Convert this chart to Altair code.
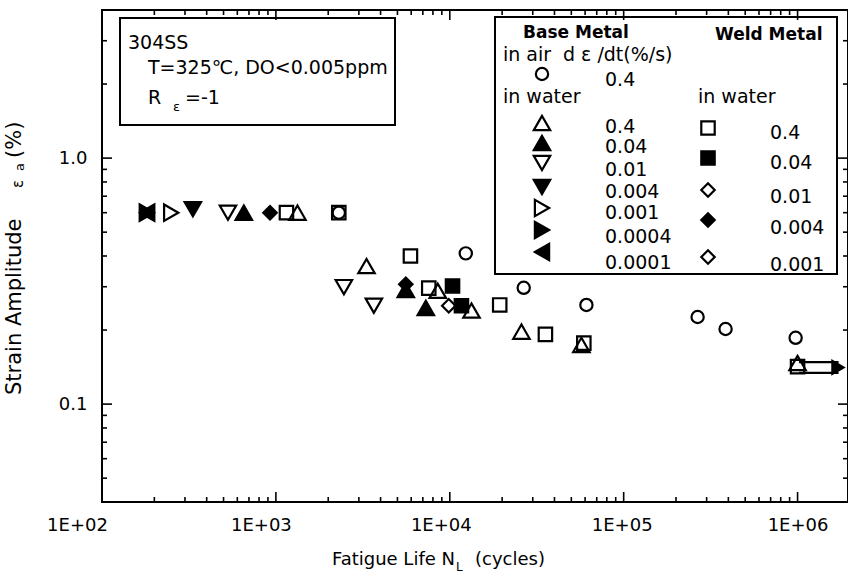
import altair as alt
import pandas as pd

# ---------------- data ----------------
cat_names = ["B_air_0.4", "B_w_0.4", "B_w_0.04", "B_w_0.01", "B_w_0.004", "B_w_0.001",
             "B_w_0.0004", "B_w_0.0001", "W_w_0.4", "W_w_0.04", "W_w_0.01", "W_w_0.004", "W_w_0.001"]
cat_shapes = ["circle", "triangle-up", "triangle-up", "triangle-down", "triangle-down", "triangle-right",
              "triangle-right", "triangle-left", "square", "square", "diamond", "diamond", "diamond"]
cat_fills = ["transparent", "transparent", "black", "transparent", "black", "transparent",
             "black", "black", "transparent", "black", "transparent", "black", "transparent"]
cat_sizes = [150, 270, 270, 270, 270, 270, 270, 270, 180, 180, 180, 180, 180]

cycles = [181, 182, 250, 333, 530, 654, 925, 1150, 1330, 2300, 2300,
          5940, 12360, 3320, 2460, 5585, 5585, 7570, 8530, 10370,
          3660, 7280, 9865, 11670, 13330, 19370, 26620, 61050,
          25830, 35480, 57130, 59000, 266200, 385500, 974700, 1000000, 1000000]
strain = [0.60, 0.60, 0.60, 0.62, 0.60, 0.60, 0.60, 0.60, 0.60, 0.60, 0.60,
          0.40, 0.41, 0.364, 0.299, 0.307, 0.291, 0.296, 0.289, 0.302,
          0.251, 0.246, 0.251, 0.251, 0.240, 0.253, 0.297, 0.253,
          0.197, 0.192, 0.174, 0.177, 0.226, 0.202, 0.186, 0.142, 0.147]
cond = ["B_w_0.0004", "B_w_0.0001", "B_w_0.001", "B_w_0.004", "B_w_0.01", "B_w_0.04", "W_w_0.004",
        "W_w_0.4", "B_w_0.4", "W_w_0.4", "B_air_0.4",
        "W_w_0.4", "B_air_0.4", "B_w_0.4", "B_w_0.01", "W_w_0.004", "B_w_0.04", "W_w_0.4", "B_w_0.4", "W_w_0.04",
        "B_w_0.01", "B_w_0.04", "W_w_0.01", "W_w_0.04", "B_w_0.4", "W_w_0.4", "B_air_0.4", "B_air_0.4",
        "B_w_0.4", "W_w_0.4", "B_w_0.4", "W_w_0.4", "B_air_0.4", "B_air_0.4", "B_air_0.4", "W_w_0.4", "B_w_0.4"]

# run-out arrow (specimen at 1E+06 did not fail)
runout_x_start = [1.02e6]
runout_x_end = [1.72e6]
runout_y_upper = [0.148]
runout_y_lower = [0.134]
runout_y_mid = [0.141]

x_major = [1e2, 1e3, 1e4, 1e5, 1e6]
x_minor = [k * 10 ** e for e in range(2, 6) for k in range(2, 10)]
y_major = [0.1, 1.0]
y_minor = [0.05, 0.06, 0.07, 0.08, 0.09, 0.2, 0.3, 0.4, 0.5, 0.6, 0.7, 0.8, 0.9, 2.0, 3.0]

base_rates = ["0.4", "0.04", "0.01", "0.004", "0.001", "0.0004", "0.0001"]
base_cats = ["B_w_0.4", "B_w_0.04", "B_w_0.01", "B_w_0.004", "B_w_0.001", "B_w_0.0004", "B_w_0.0001"]
weld_rates = ["0.4", "0.04", "0.01", "0.004", "0.001"]
weld_cats = ["W_w_0.4", "W_w_0.04", "W_w_0.01", "W_w_0.004", "W_w_0.001"]

# ---------------- layout ----------------
W, H = 746, 492
FONT = "DejaVu Sans"
FS = 18
BFS = 19

df = pd.DataFrame({"N": cycles, "ea": strain, "cond": cond})

xscale = alt.Scale(type="log", domain=[100, 1.95e6], nice=False)
yscale = alt.Scale(type="log", domain=[0.04, 4], nice=False)
x_label_offset = {
    "condition": [
        {"test": "datum.value < 150", "value": -25},
        {"test": "datum.value < 1500", "value": -15},
        {"test": "datum.value < 15000", "value": -9},
        {"test": "datum.value < 150000", "value": -2},
    ],
    "value": 0,
}
xaxis = alt.Axis(values=x_major, labelExpr="'1E+0' + round(log(datum.value) / LN10)",
                 ticks=False, domain=False, grid=False, labelFont=FONT, labelFontSize=FS,
                 labelColor="black", labelPadding=14, labelFlush=False, labelOverlap=False,
                 labelOffset=x_label_offset, title=None)
yaxis = alt.Axis(values=y_major, format=".1f", ticks=False, domain=False, grid=False,
                 labelFont=FONT, labelFontSize=FS, labelColor="black", labelPadding=15,
                 labelOverlap=False, title=None)


def X(f):
    return alt.X(f, type="quantitative", scale=xscale, axis=xaxis)


def Y(f):
    return alt.Y(f, type="quantitative", scale=yscale, axis=yaxis)


one = pd.DataFrame({"a": [0]})
shape_lookup = dict(zip(cat_names, cat_shapes))
fill_lookup = dict(zip(cat_names, cat_fills))
size_lookup = dict(zip(cat_names, cat_sizes))

points = alt.Chart(df).mark_point(stroke="black", strokeWidth=2.2, opacity=1, fillOpacity=1).encode(
    x=X("N"), y=Y("ea"),
    shape=alt.Shape("cond:N", scale=alt.Scale(domain=cat_names, range=cat_shapes), legend=None),
    fill=alt.Fill("cond:N", scale=alt.Scale(domain=cat_names, range=cat_fills), legend=None),
    size=alt.Size("cond:N", scale=alt.Scale(type="ordinal", domain=cat_names, range=cat_sizes), legend=None),
)

layers = [points]

# inward ticks on all four sides
for vals, ln in [(x_major, 10), (x_minor, 5)]:
    d = pd.DataFrame({"v": vals})
    layers.append(alt.Chart(d).mark_rule(color="black", strokeWidth=1.6).encode(
        x=X("v"), y=alt.value(H), y2=alt.value(H - ln)))
    layers.append(alt.Chart(d).mark_rule(color="black", strokeWidth=1.6).encode(
        x=X("v"), y=alt.value(0), y2=alt.value(ln)))
for vals, ln in [(y_major, 10), (y_minor, 5)]:
    d = pd.DataFrame({"v": vals})
    layers.append(alt.Chart(d).mark_rule(color="black", strokeWidth=1.6).encode(
        y=Y("v"), x=alt.value(0), x2=alt.value(ln)))
    layers.append(alt.Chart(d).mark_rule(color="black", strokeWidth=1.6).encode(
        y=Y("v"), x=alt.value(W), x2=alt.value(W - ln)))

# run-out arrow
ro = pd.DataFrame({"x0": runout_x_start, "x1": runout_x_end, "yu": runout_y_upper,
                   "yl": runout_y_lower, "ym": runout_y_mid})
layers.append(alt.Chart(ro).mark_rule(color="black", strokeWidth=2.2).encode(x=X("x0"), x2="x1", y=Y("yu")))
layers.append(alt.Chart(ro).mark_rule(color="black", strokeWidth=2.2).encode(x=X("x0"), x2="x1", y=Y("yl")))
layers.append(alt.Chart(ro).mark_point(shape="triangle-right", filled=True, color="black", opacity=1,
                                        size=280).encode(x=X("x1"), y=Y("ym")))


def box(x0, y0, x1, y1):
    return alt.Chart(one).mark_rect(fill="transparent", stroke="black", strokeWidth=2).encode(
        x=alt.value(x0), x2=alt.value(x1), y=alt.value(y0), y2=alt.value(y1))


def txt(s, x, y, size=BFS, bold=False, align="left", angle=0, baseline="middle"):
    kw = dict(align=align, baseline=baseline, font=FONT, fontSize=size, color="black")
    if bold:
        kw["fontWeight"] = "bold"
    if angle:
        kw["angle"] = angle
    return alt.Chart(one).mark_text(**kw).encode(x=alt.value(x), y=alt.value(y), text=alt.value(s))


def sym(cat, x, y):
    kw = dict(shape=shape_lookup[cat], size=size_lookup[cat], stroke="black", strokeWidth=2.2,
              opacity=1, fillOpacity=1, fill=fill_lookup[cat])
    return alt.Chart(one).mark_point(**kw).encode(x=alt.value(x), y=alt.value(y))


# condition box
layers += [box(18, 8, 293, 115),
           txt("304SS", 26, 33),
           txt("T=325℃, DO<0.005ppm", 46, 58),
           txt("R", 46, 88), txt("ε", 71, 97, size=13), txt("=-1", 83, 88)]

# legend box
layers += [box(393, 7, 735, 264),
           txt("Base Metal", 421, 23, bold=True, size=17),
           txt("Weld Metal", 613, 25, bold=True, size=17),
           txt("in air", 401, 45), txt("d ε /dt(%/s)", 461, 45),
           sym("B_air_0.4", 440, 64), txt("0.4", 503, 70),
           txt("in water", 401, 87), txt("in water", 596, 87)]
base_sym_y = [113, 133, 153, 177, 198, 220, 242]
base_lab_y = [117, 137, 160, 182, 203, 227, 253]
for c, r, ys, yl in zip(base_cats, base_rates, base_sym_y, base_lab_y):
    layers += [sym(c, 440, ys), txt(r, 503, yl)]
weld_sym_y = [118, 148, 180, 210, 247]
weld_lab_y = [123, 153, 187, 218, 255]
for c, r, ys, yl in zip(weld_cats, weld_rates, weld_sym_y, weld_lab_y):
    layers += [sym(c, 606, ys), txt(r, 668, yl)]

# axis titles
layers += [txt("Fatigue Life  N", 353, 550, size=FS, align="right"),
           txt("L", 354, 557, size=12),
           txt("(cycles)", 373, 550, size=FS),
           txt("Strain Amplitude", -87, 385, size=21, angle=270),
           txt("ε", -84, 178, size=15, angle=270),
           txt("a", -82, 161, size=13, angle=270),
           txt("(%)", -87, 148, size=21, angle=270)]

chart = alt.layer(*layers).properties(
    width=W, height=H,
    autosize=alt.AutoSizeParams(type="none"),
    padding={"left": 102, "top": 10, "right": 0, "bottom": 78},
).configure_view(stroke="black", strokeWidth=2)

chart.save("out.html", embed_options={"renderer": "svg", "actions": False})
